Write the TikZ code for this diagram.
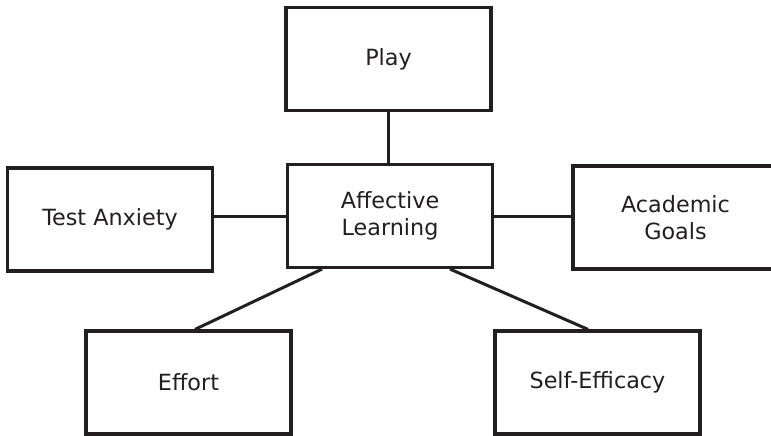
\documentclass[tikz,border=0pt]{standalone}
\usepackage{fontspec}
\setmainfont{DejaVu Sans}
\usepackage{tikz}
\definecolor{ink}{HTML}{231F20}
\tikzstyle{concept}=[draw=ink, text=ink, line width=3.2pt, minimum width=205pt, minimum height=103pt, align=center, font=\fontsize{22.3}{27.5}\selectfont]
\tikzstyle{link}=[draw=ink, line width=3pt]

\begin{document}
\begin{tikzpicture}[x=1pt, y=-1pt]
\clip (0,0) rectangle (771,436);
\node[concept] (Play) at (388.5,59) {Play};
\node[concept] (Aff) at (390,216) {Affective\\Learning};
\node[concept] (Anx) at (110,219.5) {Test Anxiety};
\node[concept] (Goals) at (675.5,217.5) {Academic\\Goals};
\node[concept] (Effort) at (188.5,382.5) {Effort};
\node[concept] (Self) at (597.5,382.5) {Self-Efficacy};
\draw[link] (Play.south) -- (Play.south |- Aff.north);
\draw[link] (Aff.west) -- (Aff.west -| Anx.east);
\draw[link] (Aff.east) -- (Aff.east -| Goals.west);
\draw[link] ([xshift=-68pt]Aff.south) -- ([xshift=6.5pt]Effort.north);
\draw[link] ([xshift=60pt]Aff.south) -- ([xshift=-9.5pt]Self.north);
\end{tikzpicture}
\end{document}
